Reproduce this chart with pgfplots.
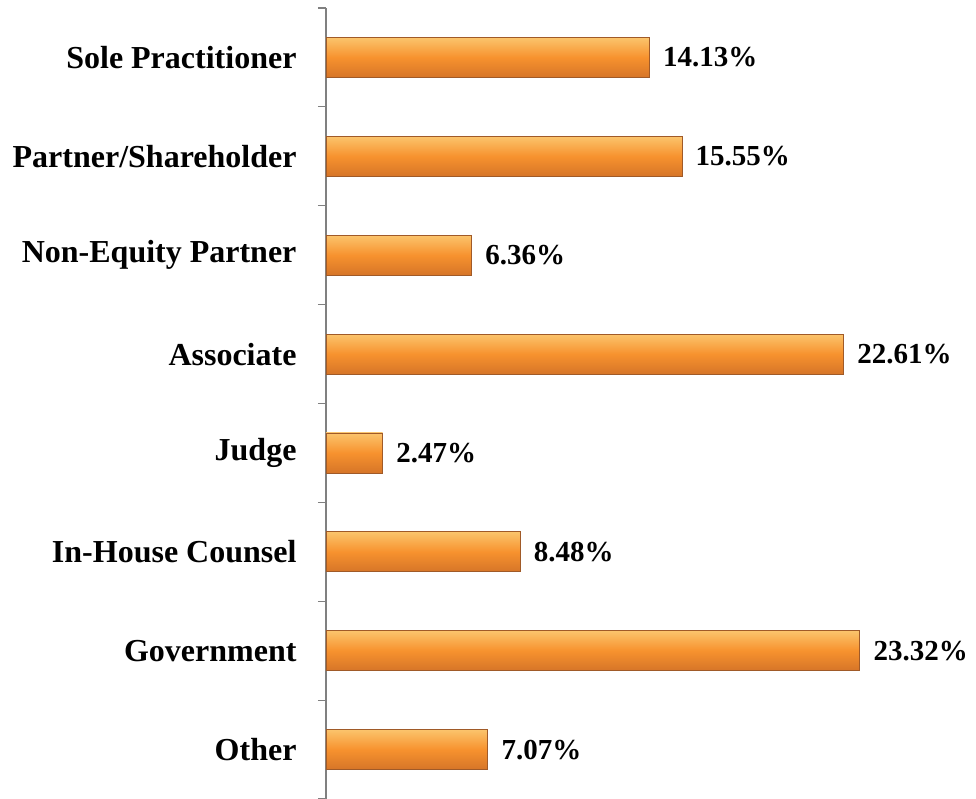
\documentclass[border=0pt]{standalone}
\usepackage{fontspec}
\setmainfont{Liberation Serif}
\usepackage{pgfplots}
\pgfplotsset{compat=1.18}
\definecolor{barmid}{HTML}{F7922E}
\definecolor{bartop}{HTML}{FBC46C}
\definecolor{barbot}{HTML}{D67528}
\definecolor{baredge}{HTML}{A05A28}
\definecolor{axisgray}{HTML}{808080}
\tikzset{barstyle/.style={draw=baredge, line width=0.8pt, top color=bartop, bottom color=barbot, middle color=barmid}}
\begin{document}
\begin{tikzpicture}
\path[use as bounding box] (-326bp,0) rectangle (650bp,799bp);
\begin{axis}[
  at={(0,0)}, anchor=south west,
  scale only axis,
  width=641bp, height=791bp,
  xmin=0, xmax=28,
  ymin=-0.5, ymax=7.5,
  y dir=reverse,
  axis x line=none,
  axis y line*=left,
  y axis line style={axisgray, line width=1.2pt},
  ytick={0,...,7},
  yticklabels={Sole Practitioner,Partner/Shareholder,Non-Equity Partner,Associate,Judge,In-House Counsel,Government,Other},
  yticklabel style={font=\fontsize{32bp}{34bp}\selectfont\bfseries, xshift=-26bp},
  major tick length=0pt,
  extra y ticks={-0.5,0.5,...,7.5},
  extra y tick labels={},
  extra y tick style={tick style={axisgray, line width=1.2pt}, major tick length=8bp, tick align=outside},
  xbar, bar width=40bp,
  bar shift=0pt,
  nodes near coords={\pgfmathprintnumber[assume math mode=true,fixed,fixed zerofill,precision=2]{\pgfplotspointmeta}\%},
  nodes near coords style={font=\fontsize{29bp}{31bp}\selectfont\bfseries, anchor=west, xshift=10bp, text=black},
  clip=false,
]
\addplot[barstyle] coordinates {(14.13,0)};
\addplot[barstyle] coordinates {(15.55,1)};
\addplot[barstyle] coordinates {(6.36,2)};
\addplot[barstyle] coordinates {(22.61,3)};
\addplot[barstyle] coordinates {(2.47,4)};
\addplot[barstyle] coordinates {(8.48,5)};
\addplot[barstyle] coordinates {(23.32,6)};
\addplot[barstyle] coordinates {(7.07,7)};
\end{axis}
\end{tikzpicture}
\end{document}
